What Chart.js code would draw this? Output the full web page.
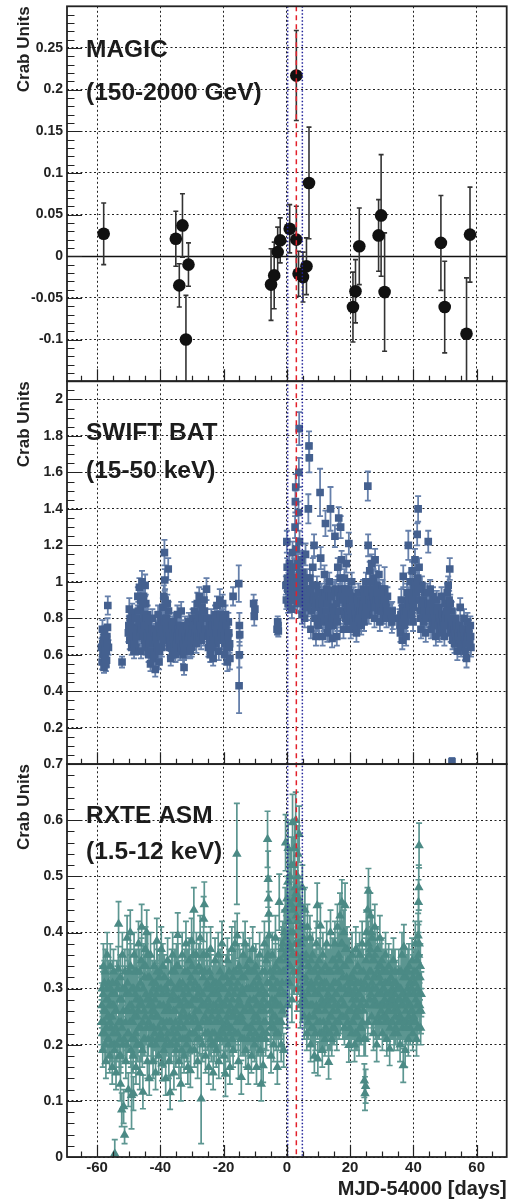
<!DOCTYPE html>
<html>
<head>
<meta charset="utf-8">
<title>MAGIC / Swift BAT / RXTE ASM light curves</title>
<script src="https://cdn.jsdelivr.net/npm/chart.js@4.4.1/dist/chart.umd.min.js"></script>
<style>
  html, body { margin: 0; padding: 0; background: #fff; }
  canvas { display: block; }
</style>
</head>
<body>
<canvas id="lc" width="513" height="1203"></canvas>
<script>
// --- Data: days are MJD-54000, fluxes in Crab units ---
const dayRange = [-69.5, 69.5];
const dayTicks = [-60, -40, -20, 0, 20, 40, 60];
const markerDays = [0.25, 4.9];   // blue dotted lines
const flareDay = 3.0;             // red dashed line

const magicRange = [-0.15, 0.3];
const magicTicks = [-0.1, -0.05, 0, 0.05, 0.1, 0.15, 0.2, 0.25];
const magicDay  = [-57.9, -35.1, -34.0, -33.0, -31.9, -31.1, -5.0, -4.0, -2.9, -2.1, 0.9, 3.0, 3.0, 3.7, 5.1, 6.2, 7.0, 20.9, 21.7, 22.9, 29.0, 29.8, 30.9, 48.7, 49.9, 56.8, 57.9];
const magicFlux = [0.027, 0.021, -0.035, 0.037, -0.100, -0.010, -0.034, -0.023, 0.005, 0.019, 0.033, 0.217, 0.020, -0.021, -0.025, -0.012, 0.088, -0.061, -0.042, 0.012, 0.025, 0.049, -0.043, 0.016, -0.061, -0.093, 0.026];
const magicErr  = [0.037, 0.033, 0.026, 0.038, 0.053, 0.026, 0.043, 0.040, 0.030, 0.027, 0.029, 0.054, 0.040, 0.027, 0.030, 0.034, 0.067, 0.042, 0.038, 0.046, 0.043, 0.073, 0.071, 0.057, 0.055, 0.067, 0.057];

const batRange = [0, 2.1];
const batTicks = [0.2, 0.4, 0.6, 0.8, 1, 1.2, 1.4, 1.6, 1.8, 2];
// [day, flux, error]
const batPoints = [
  [-58.6,0.64,0.05],[-58.4,0.56,0.04],[-58.3,0.74,0.05],[-58.1,0.60,0.04],[-58.0,0.68,0.05],
  [-57.8,0.53,0.03],[-57.7,0.71,0.05],[-57.5,0.58,0.04],[-57.4,0.66,0.05],[-57.2,0.55,0.04],
  [-57.1,0.62,0.04],[-56.9,0.70,0.05],[-56.7,0.75,0.05],[-56.6,0.87,0.05],[-56.4,0.64,0.04],
  [-52.1,0.56,0.03],
  [-50.1,0.72,0.05],[-49.8,0.85,0.06],[-49.5,0.80,0.05],[-49.2,0.70,0.05],[-48.9,0.83,0.05],
  [-48.6,0.66,0.05],[-48.3,0.62,0.04],[-48.0,0.75,0.05],[-47.7,0.64,0.04],[-47.4,0.80,0.05],
  [-47.1,0.92,0.05],[-46.9,0.70,0.05],[-46.6,0.97,0.05],[-46.3,0.85,0.05],[-46.1,0.62,0.04],
  [-45.8,1.00,0.06],[-45.5,0.78,0.05],[-45.3,0.92,0.05],[-45.0,0.68,0.05],[-44.8,0.98,0.06],
  [-44.6,0.88,0.05],[-44.3,0.72,0.05],
  [-44.0,0.82,0.05],[-43.7,0.60,0.04],[-43.4,0.74,0.05],[-43.1,0.55,0.04],[-42.8,0.68,0.05],
  [-42.5,0.80,0.05],[-42.2,0.58,0.04],[-41.9,0.66,0.05],[-41.6,0.52,0.04],[-41.3,0.74,0.05],
  [-41.0,0.62,0.05],[-40.7,0.82,0.05],[-40.4,0.56,0.04],[-40.1,0.70,0.05],[-39.8,0.78,0.05],
  [-39.5,0.64,0.05],[-39.2,0.86,0.05],[-38.9,0.92,0.06],[-38.7,1.16,0.07],[-38.6,1.01,0.06],
  [-38.4,0.80,0.05],[-38.1,0.70,0.05],[-37.8,0.88,0.05],[-37.5,1.07,0.06],[-37.3,0.76,0.05],
  [-37.0,0.64,0.05],[-36.7,0.58,0.04],[-36.4,0.72,0.05],[-36.1,0.62,0.04],[-35.8,0.78,0.05],
  [-35.5,0.68,0.05],[-35.2,0.60,0.04],[-34.9,0.74,0.05],[-34.6,0.82,0.05],[-34.3,0.66,0.05],
  [-34.0,0.76,0.05],[-33.7,0.62,0.05],[-33.4,0.84,0.05],[-33.1,0.70,0.05],[-32.8,0.60,0.05],
  [-32.5,0.53,0.04],[-32.2,0.76,0.05],[-31.9,0.66,0.05],[-31.6,0.72,0.05],[-31.3,0.62,0.04],
  [-31.0,0.78,0.05],[-30.7,0.68,0.05],[-30.4,0.74,0.05],[-30.1,0.64,0.05],
  [-29.8,0.80,0.05],[-29.5,0.70,0.05],[-29.2,0.84,0.05],[-28.9,0.76,0.05],[-28.6,0.66,0.05],
  [-28.3,0.88,0.06],[-28.0,0.72,0.05],[-27.7,0.92,0.05],[-27.4,0.78,0.05],[-27.1,0.68,0.05],
  [-26.8,0.86,0.05],[-26.5,0.74,0.05],[-26.2,0.90,0.06],[-25.9,0.80,0.05],[-25.4,0.96,0.06],
  [-25.1,0.72,0.05],[-24.8,0.64,0.05],[-24.5,0.76,0.05],[-24.2,0.60,0.04],[-23.9,0.80,0.05],
  [-23.6,0.70,0.05],[-23.3,0.58,0.04],[-23.0,0.74,0.05],[-22.7,0.82,0.05],[-22.4,0.66,0.05],
  [-22.1,0.87,0.05],[-21.8,0.72,0.05],[-21.5,0.62,0.05],
  [-21.2,0.90,0.06],[-20.9,0.78,0.05],[-20.6,0.68,0.05],[-20.3,0.88,0.05],[-20.0,0.74,0.05],
  [-19.7,0.60,0.05],[-19.4,0.82,0.05],[-19.1,0.70,0.05],[-18.8,0.56,0.05],[-18.5,0.78,0.05],
  [-18.2,0.64,0.06],[-18.0,0.58,0.06],[-17.0,0.92,0.05],
  [-15.2,0.99,0.10],[-15.0,0.76,0.07],[-14.9,0.71,0.06],[-15.0,0.60,0.07],[-15.1,0.43,0.15],
  [-10.5,0.88,0.05],[-10.3,0.81,0.05],[-10.1,0.85,0.05],
  [-3.1,0.74,0.03],[-2.9,0.78,0.03],[-2.8,0.76,0.03],[-2.7,0.73,0.03],
  [-0.3,0.98,0.05],[0.0,1.22,0.06],[0.2,1.02,0.05],[0.4,0.88,0.05],[0.6,0.95,0.05],
  [0.8,1.10,0.05],[1.0,0.90,0.05],[1.3,1.05,0.05],[1.6,0.85,0.05],[1.8,1.16,0.06],
  [2.0,0.96,0.05],[2.3,1.08,0.05],[2.6,1.30,0.06],[2.7,1.44,0.06],[2.8,1.52,0.07],
  [2.9,1.18,0.06],[3.1,1.00,0.05],[3.3,0.88,0.05],[3.5,1.10,0.05],[3.7,1.38,0.06],
  [3.8,1.60,0.08],[3.9,1.84,0.09],[4.0,1.22,0.06],[4.2,0.96,0.05],[4.4,0.89,0.05],
  [4.6,1.12,0.05],[4.8,0.82,0.05],
  [5.0,1.05,0.05],[5.3,0.92,0.05],[5.6,0.80,0.05],[5.9,1.15,0.06],[6.2,0.96,0.05],
  [6.5,0.86,0.05],[6.8,1.40,0.08],[7.0,1.745,0.08],[7.1,1.68,0.08],[7.3,1.02,0.05],
  [7.6,0.74,0.05],[7.9,0.92,0.05],[8.2,1.08,0.05],[8.6,1.20,0.06],[8.9,0.80,0.05],
  [9.2,0.70,0.05],[9.5,0.98,0.05],[9.8,0.86,0.05],[10.1,0.76,0.05],[10.5,1.49,0.13],
  [10.7,1.13,0.06],[11.0,0.94,0.05],[11.3,0.70,0.05],[11.6,0.84,0.05],[11.9,1.04,0.05],
  [12.2,1.32,0.07],[12.5,0.90,0.05],[12.8,0.72,0.05],[13.1,0.80,0.05],[13.4,1.00,0.05],
  [13.8,1.40,0.12],[14.0,0.86,0.05],[14.3,0.69,0.05],[14.6,0.76,0.05],[14.9,0.95,0.05],
  [15.2,1.25,0.06],[15.5,0.82,0.05],[15.8,0.70,0.05],[16.1,1.08,0.05],[16.4,1.35,0.06],
  [16.7,0.92,0.05],[17.0,1.30,0.06],[17.3,1.12,0.05],[17.6,0.84,0.05],[17.9,0.74,0.05],
  [18.2,1.02,0.05],[18.5,0.88,0.05],[18.8,1.10,0.05],[19.1,0.78,0.05],[19.4,0.96,0.05],
  [19.6,1.21,0.06],[19.9,0.86,0.05],
  [20.2,0.74,0.05],[20.5,1.00,0.05],[20.8,0.82,0.05],[21.1,0.92,0.05],[21.4,0.76,0.05],
  [21.7,0.88,0.05],[22.0,0.72,0.05],[22.3,0.84,0.05],[22.6,0.94,0.05],[22.9,0.78,0.05],
  [23.2,0.88,0.05],[23.5,0.76,0.05],[23.8,0.82,0.05],[24.1,0.96,0.05],[24.4,0.78,0.05],
  [24.7,0.86,0.05],[25.0,1.00,0.05],[25.3,0.90,0.05],[25.6,1.525,0.08],[25.7,1.20,0.06],
  [25.9,0.82,0.05],[26.2,1.06,0.05],[26.5,0.94,0.05],[26.8,1.10,0.05],[27.1,0.86,0.05],
  [27.4,1.02,0.05],[27.7,0.80,0.05],[27.9,1.12,0.06],[28.2,0.92,0.05],[28.5,0.98,0.05],
  [28.8,0.84,0.05],[29.1,1.04,0.05],[29.4,0.78,0.05],[29.7,0.90,0.05],
  [30.0,0.86,0.05],[30.3,0.96,0.05],[30.6,0.82,0.05],[30.9,0.96,0.12],[31.2,0.88,0.05],
  [31.5,0.80,0.05],[31.8,0.92,0.05],[33.0,0.82,0.06],[33.2,0.78,0.06],[33.3,0.84,0.05],
  [33.5,0.80,0.06],
  [35.6,0.80,0.05],[35.9,0.72,0.05],[36.2,0.90,0.06],[36.5,0.68,0.05],[36.8,1.03,0.06],
  [37.1,0.76,0.05],[37.4,0.86,0.05],[37.7,0.70,0.05],[38.0,0.94,0.05],[38.4,1.20,0.08],
  [38.7,0.82,0.05],[39.0,1.00,0.05],[39.3,0.88,0.05],[39.6,1.06,0.05],[39.9,0.78,0.05],
  [40.2,0.96,0.05],[40.5,1.12,0.06],[40.8,0.90,0.05],[41.2,1.26,0.06],[41.5,1.40,0.07],
  [41.8,1.08,0.05],[42.1,0.84,0.05],
  [42.4,0.74,0.05],[42.7,0.98,0.05],[43.0,0.86,0.05],[43.3,0.78,0.05],[43.6,0.94,0.05],
  [43.9,0.72,0.05],[44.2,0.88,0.05],[44.7,1.22,0.06],[45.0,0.80,0.05],[45.3,0.96,0.05],
  [45.6,0.74,0.05],[45.9,0.86,0.05],[46.2,0.92,0.05],[46.5,0.76,0.05],[46.8,0.84,0.05],
  [47.1,0.70,0.05],[47.4,0.90,0.05],[47.7,0.78,0.05],[48.0,0.86,0.05],[48.3,0.72,0.05],
  [48.6,0.82,0.05],[48.9,0.92,0.05],[49.2,0.74,0.05],[49.5,0.80,0.05],[49.8,0.70,0.05],
  [50.1,0.88,0.05],[50.4,0.76,0.05],[50.7,0.94,0.05],[51.0,0.98,0.05],[51.3,0.90,0.05],
  [51.5,1.07,0.06],[51.8,0.72,0.05],[52.1,0.84,0.05],[52.2,0.014,0.02],[52.4,0.68,0.05],
  [52.7,0.78,0.05],
  [53.0,0.66,0.05],[53.3,0.80,0.05],[53.6,0.70,0.05],[53.9,0.62,0.05],[54.2,0.76,0.05],
  [54.5,0.68,0.05],[54.8,0.86,0.05],[55.1,0.64,0.05],[55.4,0.74,0.05],[55.7,0.70,0.05],
  [56.0,0.80,0.05],[56.3,0.62,0.05],[56.6,0.72,0.05],[56.8,0.58,0.05],[57.1,0.78,0.05],
  [57.4,0.66,0.05],[57.7,0.70,0.05],[58.0,0.76,0.05],[58.2,0.64,0.05],
  // interleaved orbits
  [-58.2,0.66,0.05],[-57.9,0.61,0.04],[-57.6,0.69,0.05],[-57.3,0.63,0.04],[-57.0,0.57,0.04],[-56.8,0.66,0.05],
  [-49.95,0.76,0.05],[-49.65,0.68,0.05],[-49.35,0.78,0.05],[-49.05,0.64,0.04],[-48.75,0.74,0.05],
  [-48.45,0.70,0.05],[-48.15,0.66,0.05],[-47.85,0.80,0.05],[-47.55,0.70,0.05],[-47.25,0.74,0.05],
  [-46.95,0.84,0.05],[-46.75,0.78,0.05],[-46.45,0.72,0.05],[-46.2,0.90,0.05],[-45.95,0.74,0.05],
  [-45.65,0.88,0.05],[-45.4,0.70,0.05],[-45.15,0.82,0.05],[-44.9,0.76,0.05],[-44.7,0.64,0.04],
  [-44.45,0.80,0.05],[-44.15,0.70,0.05],[-43.85,0.76,0.05],[-43.55,0.66,0.05],[-43.25,0.70,0.05],
  [-42.95,0.62,0.04],[-42.65,0.74,0.05],[-42.35,0.66,0.05],[-42.05,0.72,0.05],[-41.75,0.60,0.04],
  [-41.45,0.68,0.05],[-41.15,0.70,0.05],[-40.85,0.64,0.05],[-40.55,0.76,0.05],[-40.25,0.62,0.04],
  [-39.95,0.72,0.05],[-39.65,0.70,0.05],[-39.35,0.76,0.05],[-39.05,0.68,0.05],[-38.8,0.78,0.05],
  [-38.5,0.90,0.06],[-38.25,0.74,0.05],[-37.95,0.80,0.05],[-37.65,0.72,0.05],[-37.4,0.84,0.05],
  [-37.15,0.70,0.05],[-36.85,0.68,0.05],[-36.55,0.64,0.04],[-36.25,0.76,0.05],[-35.95,0.70,0.05],
  [-35.65,0.64,0.04],[-35.35,0.72,0.05],[-35.05,0.66,0.05],[-34.75,0.70,0.05],[-34.45,0.74,0.05],
  [-34.15,0.68,0.05],[-33.85,0.72,0.05],[-33.55,0.76,0.05],[-33.25,0.64,0.04],[-32.95,0.72,0.05],
  [-32.65,0.66,0.05],[-32.35,0.62,0.04],[-32.05,0.70,0.05],[-31.75,0.68,0.05],[-31.45,0.76,0.05],
  [-31.15,0.70,0.05],[-30.85,0.72,0.05],[-30.55,0.62,0.04],[-30.25,0.70,0.05],[-29.95,0.74,0.05],
  [-29.65,0.76,0.05],[-29.35,0.68,0.05],[-29.05,0.72,0.05],[-28.75,0.80,0.05],[-28.45,0.70,0.05],
  [-28.15,0.78,0.05],[-27.85,0.82,0.05],[-27.55,0.70,0.05],[-27.25,0.76,0.05],[-26.95,0.72,0.05],
  [-26.65,0.80,0.05],[-26.35,0.70,0.05],[-26.05,0.84,0.05],[-25.7,0.74,0.05],[-25.25,0.80,0.05],
  [-24.95,0.70,0.05],[-24.65,0.72,0.05],[-24.35,0.68,0.05],[-24.05,0.72,0.05],[-23.75,0.64,0.04],
  [-23.45,0.76,0.05],[-23.15,0.68,0.05],[-22.85,0.70,0.05],[-22.55,0.76,0.05],[-22.25,0.72,0.05],
  [-21.95,0.78,0.05],[-21.65,0.68,0.05],[-21.05,0.82,0.05],[-20.75,0.72,0.05],[-20.45,0.76,0.05],
  [-20.15,0.80,0.05],[-19.85,0.70,0.05],[-19.55,0.66,0.05],[-19.25,0.76,0.05],[-18.95,0.64,0.05],
  [-18.65,0.70,0.05],[-18.35,0.72,0.05],[-18.1,0.66,0.05],
  [-0.15,0.90,0.05],[0.1,1.08,0.05],[0.3,0.96,0.05],[0.5,1.00,0.05],[0.7,0.90,0.05],
  [0.9,0.98,0.05],[1.15,0.94,0.05],[1.45,0.98,0.05],[1.7,0.92,0.05],[1.9,1.02,0.05],
  [2.15,0.90,0.05],[2.45,1.00,0.05],[2.75,0.94,0.05],[3.0,1.08,0.05],[3.2,0.96,0.05],
  [3.4,1.02,0.05],[3.6,0.92,0.05],[4.1,1.04,0.05],[4.3,0.94,0.05],[4.5,1.00,0.05],
  [4.7,0.90,0.05],[4.9,0.96,0.05],[5.15,0.88,0.05],[5.45,1.00,0.05],[5.75,0.94,0.05],
  [6.05,0.86,0.05],[6.35,1.02,0.05],[6.65,0.92,0.05],[7.2,0.88,0.05],[7.45,0.96,0.05],
  [7.75,0.84,0.05],[8.05,0.98,0.05],[8.35,0.90,0.05],[8.75,0.92,0.05],[9.05,0.86,0.05],
  [9.35,0.90,0.05],[9.65,0.78,0.05],[9.95,0.94,0.05],[10.3,0.88,0.05],[10.85,0.82,0.05],
  [11.15,0.88,0.05],[11.45,0.92,0.05],[11.75,0.78,0.05],[12.05,0.94,0.05],[12.35,0.84,0.05],
  [12.65,0.96,0.05],[12.95,0.88,0.05],[13.25,0.76,0.05],[13.55,0.92,0.05],[13.9,0.82,0.05],
  [14.15,0.92,0.05],[14.45,0.80,0.05],[14.75,0.86,0.05],[15.05,0.80,0.05],[15.35,0.96,0.05],
  [15.65,0.88,0.05],[15.95,0.78,0.05],[16.25,0.94,0.05],[16.55,0.84,0.05],[16.85,1.02,0.05],
  [17.15,0.92,0.05],[17.45,0.96,0.05],[17.75,0.90,0.05],[18.05,0.82,0.05],[18.35,0.96,0.05],
  [18.65,0.80,0.05],[18.95,0.92,0.05],[19.25,0.86,0.05],[19.5,0.82,0.05],[19.75,0.94,0.05],
  [20.05,0.86,0.05],[20.35,0.80,0.05],[20.65,0.90,0.05],[20.95,0.78,0.05],[21.25,0.86,0.05],
  [21.55,0.82,0.05],[21.85,0.80,0.05],[22.15,0.90,0.05],[22.45,0.80,0.05],[22.75,0.86,0.05],
  [23.05,0.82,0.05],[23.35,0.84,0.05],[23.65,0.90,0.05],[23.95,0.84,0.05],[24.25,0.88,0.05],
  [24.55,0.92,0.05],[24.85,0.82,0.05],[25.15,0.86,0.05],[25.45,0.96,0.05],[26.05,0.90,0.05],
  [26.35,1.00,0.05],[26.65,0.88,0.05],[26.95,0.96,0.05],[27.25,0.92,0.05],[27.55,0.88,0.05],
  [27.75,0.96,0.05],[28.05,0.86,0.05],[28.35,0.90,0.05],[28.65,0.94,0.05],[28.95,0.90,0.05],
  [29.25,0.86,0.05],[29.55,0.94,0.05],[29.85,0.84,0.05],[30.15,0.90,0.05],[30.45,0.88,0.05],
  [30.75,0.90,0.05],[31.05,0.84,0.05],[31.35,0.86,0.05],[31.65,0.84,0.05],
  [35.75,0.76,0.05],[36.05,0.82,0.05],[36.35,0.78,0.05],[36.65,0.86,0.05],[36.95,0.80,0.05],
  [37.25,0.82,0.05],[37.55,0.78,0.05],[37.85,0.84,0.05],[38.2,0.88,0.05],[38.55,0.92,0.05],
  [38.85,0.88,0.05],[39.15,0.94,0.05],[39.45,0.82,0.05],[39.75,0.90,0.05],[40.05,0.86,0.05],
  [40.35,0.98,0.05],[40.65,1.00,0.05],[40.95,0.94,0.05],[41.35,1.02,0.05],[41.65,0.96,0.05],
  [41.95,0.90,0.05],[42.25,0.80,0.05],[42.55,0.86,0.05],[42.85,0.80,0.05],[43.15,0.90,0.05],
  [43.45,0.84,0.05],[43.75,0.82,0.05],[44.05,0.80,0.05],[44.45,0.94,0.05],[44.85,0.88,0.05],
  [45.15,0.84,0.05],[45.45,0.88,0.05],[45.75,0.80,0.05],[46.05,0.78,0.05],[46.35,0.84,0.05],
  [46.65,0.80,0.05],[46.95,0.78,0.05],[47.25,0.80,0.05],[47.55,0.84,0.05],[47.85,0.76,0.05],
  [48.15,0.80,0.05],[48.45,0.78,0.05],[48.75,0.76,0.05],[49.05,0.82,0.05],[49.35,0.78,0.05],
  [49.65,0.76,0.05],[49.95,0.80,0.05],[50.25,0.82,0.05],[50.55,0.84,0.05],[50.85,0.86,0.05],
  [51.15,0.80,0.05],[51.65,0.88,0.05],[51.95,0.78,0.05],[52.3,0.76,0.05],[52.55,0.72,0.05],
  [52.85,0.74,0.05],[53.15,0.72,0.05],[53.45,0.76,0.05],[53.75,0.74,0.05],[54.05,0.70,0.05],
  [54.35,0.72,0.05],[54.65,0.76,0.05],[54.95,0.70,0.05],[55.25,0.72,0.05],[55.55,0.66,0.05],
  [55.85,0.74,0.05],[56.15,0.70,0.05],[56.45,0.68,0.05],[56.75,0.66,0.05],[56.95,0.70,0.05],
  [57.25,0.72,0.05],[57.55,0.74,0.05],[57.85,0.68,0.05],[58.1,0.70,0.05]
];

const asmRange = [0, 0.7];
const asmTicks = [0, 0.1, 0.2, 0.3, 0.4, 0.5, 0.6, 0.7];
// [day, flux, error]
const asmPoints = [
  [-58.6,0.24,0.04],[-58.4,0.30,0.04],[-58.2,0.19,0.03],[-58.0,0.34,0.04],[-57.8,0.26,0.03],
  [-57.6,0.22,0.03],[-57.4,0.33,0.04],[-57.2,0.17,0.03],[-57.0,0.28,0.04],[-56.8,0.36,0.04],
  [-56.6,0.21,0.03],[-56.4,0.31,0.04],[-56.2,0.25,0.03],[-56.0,0.18,0.03],
  [-55.8,0.34,0.04],[-55.6,0.23,0.03],[-55.4,0.29,0.04],[-55.2,0.16,0.03],[-55.0,0.27,0.04],
  [-54.8,0.33,0.04],[-54.6,0.20,0.03],[-54.4,0.006,0.025],[-54.2,0.26,0.04],[-54.0,0.15,0.03],
  [-53.8,0.31,0.04],[-53.6,0.22,0.03],[-53.3,0.335,0.04],[-53.2,0.415,0.04],[-53.0,0.18,0.03],
  [-52.8,0.28,0.04],[-52.6,0.13,0.03],[-52.4,0.24,0.03],[-52.2,0.084,0.03],[-52.0,0.36,0.04],
  [-51.8,0.20,0.03],[-51.6,0.09,0.03],[-51.3,0.039,0.015],[-51.1,0.30,0.04],[-50.9,0.17,0.03],
  [-50.7,0.26,0.04],[-50.5,0.39,0.04],[-50.3,0.22,0.03],[-50.1,0.12,0.03],
  [-49.9,0.33,0.04],[-49.7,0.27,0.04],[-49.5,0.40,0.04],[-49.3,0.19,0.03],[-49.1,0.11,0.06],
  [-48.9,0.30,0.04],[-48.7,0.24,0.03],[-48.5,0.113,0.03],[-48.3,0.36,0.04],[-48.1,0.21,0.03],
  [-47.9,0.29,0.04],[-47.7,0.16,0.03],[-47.5,0.33,0.04],[-47.3,0.25,0.03],
  [-47.1,0.20,0.03],[-46.9,0.38,0.04],[-46.7,0.27,0.04],[-46.5,0.15,0.03],[-46.3,0.31,0.04],
  [-46.1,0.23,0.03],[-45.9,0.41,0.04],[-45.7,0.19,0.03],[-45.5,0.116,0.03],[-45.3,0.34,0.04],
  [-45.1,0.26,0.04],[-44.9,0.21,0.03],[-44.7,0.37,0.04],[-44.5,0.29,0.04],[-44.3,0.40,0.04],
  [-44.1,0.17,0.03],[-43.9,0.32,0.04],[-43.7,0.24,0.03],[-43.5,0.14,0.03],[-43.3,0.28,0.04],
  [-43.1,0.36,0.04],[-42.9,0.20,0.03],[-42.7,0.26,0.04],[-42.5,0.31,0.04],[-42.3,0.17,0.03],
  [-42.1,0.23,0.03],[-41.9,0.34,0.04],[-41.7,0.28,0.04],[-41.5,0.15,0.03],[-41.3,0.25,0.03],
  [-41.1,0.385,0.04],[-40.9,0.21,0.03],[-40.7,0.30,0.04],[-40.5,0.18,0.03],[-40.3,0.27,0.04],
  [-40.1,0.33,0.04],[-39.9,0.22,0.03],[-39.7,0.37,0.04],[-39.5,0.166,0.03],[-39.3,0.29,0.04],
  [-39.1,0.24,0.03],[-38.9,0.19,0.03],[-38.7,0.32,0.04],[-38.5,0.26,0.04],[-38.3,0.14,0.03],
  [-38.1,0.30,0.04],[-37.9,0.21,0.03],[-37.7,0.35,0.04],[-37.5,0.27,0.04],[-37.3,0.17,0.03],
  [-37.1,0.24,0.03],[-36.9,0.115,0.03],[-36.7,0.31,0.04],[-36.5,0.20,0.03],[-36.3,0.28,0.04],
  [-36.1,0.36,0.04],[-35.9,0.23,0.03],[-35.7,0.15,0.03],[-35.5,0.30,0.04],[-35.3,0.26,0.04],
  [-35.1,0.19,0.03],[-34.9,0.34,0.04],[-34.7,0.22,0.03],[-34.5,0.395,0.04],[-34.3,0.28,0.04],
  [-34.1,0.17,0.03],[-33.9,0.31,0.04],[-33.7,0.24,0.03],[-33.5,0.13,0.03],[-33.3,0.27,0.04],
  [-33.1,0.36,0.04],[-32.9,0.21,0.03],[-32.7,0.29,0.04],[-32.5,0.18,0.03],[-32.3,0.33,0.04],
  [-32.1,0.25,0.04],[-31.9,0.38,0.04],[-31.7,0.20,0.03],[-31.5,0.30,0.04],[-31.3,0.16,0.03],
  [-31.1,0.27,0.04],[-30.9,0.35,0.04],[-30.7,0.22,0.03],[-30.5,0.154,0.03],[-30.3,0.32,0.04],
  [-30.1,0.385,0.04],[-29.9,0.24,0.03],[-29.7,0.28,0.04],[-29.4,0.44,0.04],[-29.2,0.19,0.03],
  [-29.0,0.31,0.04],[-28.8,0.26,0.04],[-28.6,0.36,0.04],[-28.4,0.21,0.03],[-28.2,0.17,0.03],
  [-28.0,0.29,0.04],[-27.8,0.34,0.04],[-27.6,0.23,0.03],[-27.4,0.39,0.04],[-27.1,0.104,0.08],
  [-26.9,0.27,0.04],[-26.7,0.20,0.03],[-26.5,0.32,0.04],[-26.3,0.424,0.04],[-26.1,0.45,0.04],
  [-25.9,0.25,0.04],[-25.7,0.18,0.03],[-25.5,0.30,0.04],[-25.3,0.36,0.04],[-25.1,0.22,0.03],
  [-24.9,0.28,0.04],[-24.7,0.16,0.03],[-24.5,0.33,0.04],[-24.3,0.24,0.03],[-24.1,0.37,0.04],
  [-23.9,0.20,0.03],[-23.7,0.29,0.04],[-23.5,0.26,0.04],[-23.3,0.15,0.03],[-23.1,0.31,0.04],
  [-22.9,0.22,0.03],[-22.7,0.35,0.04],[-22.5,0.27,0.04],[-22.3,0.19,0.03],[-22.1,0.30,0.04],
  [-21.9,0.24,0.03],[-21.7,0.36,0.04],[-21.5,0.17,0.03],[-21.3,0.28,0.04],[-21.1,0.33,0.04],
  [-20.9,0.21,0.03],[-20.7,0.26,0.04],[-20.5,0.38,0.04],[-20.3,0.23,0.03],[-20.1,0.30,0.04],
  [-19.9,0.18,0.03],[-19.7,0.27,0.04],[-19.4,0.148,0.04],[-19.2,0.32,0.04],[-19.0,0.24,0.03],
  [-18.8,0.35,0.04],[-18.6,0.20,0.03],[-18.4,0.29,0.04],[-18.2,0.26,0.04],[-18.0,0.16,0.03],
  [-17.8,0.31,0.04],[-17.6,0.23,0.03],[-17.4,0.37,0.04],[-17.2,0.28,0.04],[-17.0,0.19,0.03],
  [-16.8,0.33,0.04],[-16.6,0.25,0.03],[-16.4,0.38,0.04],[-16.2,0.22,0.03],[-16.0,0.30,0.04],
  [-15.8,0.54,0.09],[-15.7,0.394,0.04],[-15.5,0.27,0.04],[-15.3,0.17,0.03],[-15.1,0.34,0.04],
  [-14.9,0.24,0.03],[-14.7,0.29,0.04],[-14.4,0.142,0.03],[-14.2,0.32,0.04],[-14.0,0.21,0.03],
  [-13.8,0.36,0.04],[-13.6,0.26,0.04],[-13.2,0.38,0.04],[-13.0,0.19,0.03],[-12.8,0.30,0.04],
  [-12.6,0.23,0.03],[-12.4,0.33,0.04],[-12.2,0.16,0.03],
  [-12.0,0.27,0.04],[-11.8,0.35,0.04],[-11.6,0.22,0.03],[-11.4,0.30,0.04],[-11.2,0.18,0.03],
  [-11.0,0.26,0.04],[-10.8,0.37,0.04],[-10.6,0.24,0.03],[-10.4,0.31,0.04],[-10.2,0.20,0.03],
  [-10.0,0.28,0.04],[-9.8,0.34,0.04],[-9.6,0.16,0.03],[-9.4,0.25,0.04],[-9.2,0.32,0.04],
  [-9.0,0.21,0.03],[-8.8,0.29,0.04],[-8.6,0.36,0.04],[-8.4,0.19,0.03],[-8.1,0.13,0.03],
  [-7.9,0.27,0.04],[-7.7,0.33,0.04],[-7.5,0.163,0.03],[-7.3,0.24,0.03],[-7.1,0.38,0.04],
  [-6.9,0.29,0.04],[-6.7,0.21,0.03],[-6.5,0.35,0.04],[-6.3,0.27,0.04],[-6.1,0.566,0.05],
  [-5.9,0.495,0.05],[-5.8,0.46,0.04],[-5.7,0.433,0.04],[-5.6,0.394,0.04],[-5.4,0.31,0.04],
  [-5.2,0.23,0.03],[-5.0,0.18,0.03],
  [-4.8,0.30,0.04],[-4.6,0.36,0.04],[-4.4,0.25,0.03],[-4.2,0.20,0.03],[-4.0,0.33,0.04],
  [-3.8,0.28,0.04],[-3.6,0.39,0.04],[-3.4,0.22,0.03],[-3.2,0.31,0.04],[-3.0,0.16,0.03],
  [-2.8,0.27,0.04],[-2.6,0.35,0.04],[-2.4,0.454,0.05],[-2.2,0.24,0.03],[-2.0,0.30,0.04],
  [-1.8,0.20,0.03],[-1.6,0.37,0.04],[-1.4,0.26,0.04],[-1.2,0.33,0.04],[-1.0,0.19,0.03],
  [-0.8,0.40,0.04],[-0.6,0.29,0.04],[-0.4,0.56,0.05],[-0.2,0.35,0.04],[0.0,0.46,0.04],
  [0.2,0.27,0.04],[0.4,0.55,0.05],[0.6,0.42,0.04],[0.8,0.31,0.04],[1.0,0.50,0.05],
  [1.2,0.37,0.04],[1.4,0.45,0.04],[1.6,0.28,0.04],[1.8,0.596,0.05],[2.0,0.40,0.04],
  [2.2,0.52,0.05],[2.4,0.33,0.04],[2.6,0.48,0.04],[2.8,0.60,0.05],[3.0,0.43,0.04],
  [3.2,0.30,0.04],[3.4,0.50,0.05],[3.6,0.38,0.04],[3.9,0.575,0.05],[4.1,0.45,0.04],
  [4.3,0.27,0.04],[4.5,0.41,0.04],[4.7,0.34,0.04],[4.9,0.48,0.04],[5.1,0.29,0.04],
  [5.3,0.39,0.04],[5.5,0.25,0.04],[5.7,0.44,0.04],[5.9,0.32,0.04],
  [6.1,0.36,0.04],[6.3,0.22,0.03],[6.5,0.41,0.04],[6.7,0.29,0.04],[6.9,0.34,0.04],
  [7.1,0.25,0.03],[7.3,0.39,0.04],[7.5,0.20,0.03],[7.7,0.31,0.04],[7.9,0.27,0.04],
  [8.1,0.36,0.04],[8.3,0.23,0.03],[8.5,0.30,0.04],[8.7,0.18,0.03],[8.9,0.33,0.04],
  [9.1,0.26,0.04],[9.3,0.38,0.04],[9.6,0.448,0.04],[9.8,0.175,0.03],[10.0,0.29,0.04],
  [10.2,0.35,0.04],[10.4,0.22,0.03],[10.6,0.412,0.04],[10.8,0.27,0.04],[11.0,0.31,0.04],
  [11.2,0.19,0.03],[11.4,0.36,0.04],[11.6,0.24,0.03],[11.8,0.30,0.04],[12.0,0.21,0.03],
  [12.2,0.34,0.04],[12.4,0.27,0.04],[12.6,0.38,0.04],[12.8,0.22,0.03],[13.0,0.29,0.04],
  [13.2,0.169,0.03],[13.4,0.33,0.04],[13.6,0.25,0.03],[13.8,0.40,0.04],[14.0,0.28,0.04],
  [14.2,0.21,0.03],[14.4,0.35,0.04],[14.6,0.26,0.04],[14.8,0.31,0.04],[15.0,0.23,0.03],
  [15.2,0.38,0.04],[15.4,0.29,0.04],[15.6,0.34,0.04],[15.8,0.22,0.03],[16.0,0.41,0.04],
  [16.2,0.27,0.04],[16.4,0.36,0.04],[16.6,0.30,0.04],[16.8,0.43,0.04],[17.0,0.25,0.03],
  [17.2,0.38,0.04],[17.4,0.454,0.04],[17.6,0.32,0.04],[17.8,0.27,0.04],[18.0,0.40,0.04],
  [18.2,0.23,0.03],[18.4,0.448,0.04],[18.6,0.34,0.04],[18.8,0.29,0.04],[19.0,0.37,0.04],
  [19.2,0.24,0.03],[19.4,0.31,0.04],[19.6,0.199,0.03],[19.8,0.35,0.04],[20.0,0.26,0.04],
  [20.2,0.32,0.04],[20.4,0.22,0.03],[20.6,0.36,0.04],[20.8,0.28,0.04],[21.0,0.24,0.03],
  [21.2,0.33,0.04],[21.4,0.20,0.03],[21.6,0.30,0.04],[21.8,0.37,0.04],[22.0,0.26,0.04],
  [22.2,0.22,0.03],[22.4,0.34,0.04],[22.6,0.29,0.04],[22.8,0.21,0.03],[23.0,0.36,0.04],
  [23.2,0.27,0.04],[23.4,0.31,0.04],[23.6,0.23,0.03],[23.8,0.38,0.04],[24.0,0.28,0.04],
  [24.2,0.33,0.04],[24.4,0.21,0.03],[24.5,0.136,0.03],[24.7,0.113,0.03],[24.9,0.126,0.03],
  [25.1,0.40,0.04],[25.3,0.30,0.04],[25.5,0.44,0.04],[25.6,0.24,0.03],[25.8,0.474,0.04],
  [26.0,0.36,0.04],[26.2,0.28,0.04],[26.4,0.43,0.04],[26.6,0.33,0.04],[26.8,0.25,0.03],
  [27.0,0.39,0.04],[27.2,0.30,0.04],[27.4,0.22,0.03],[27.6,0.35,0.04],[27.8,0.41,0.04],
  [28.0,0.27,0.04],[28.2,0.32,0.04],[28.4,0.20,0.03],[28.6,0.37,0.04],[28.8,0.29,0.04],
  [29.0,0.34,0.04],[29.2,0.24,0.03],[29.4,0.39,0.04],[29.6,0.31,0.04],[29.8,0.26,0.04],
  [30.0,0.35,0.04],[30.2,0.22,0.03],[30.4,0.30,0.04],[30.6,0.27,0.04],[30.8,0.33,0.04],
  [31.0,0.24,0.03],[31.2,0.36,0.04],[31.4,0.29,0.04],[31.6,0.21,0.03],[31.8,0.31,0.04],
  [32.0,0.26,0.04],[32.2,0.34,0.04],[32.5,0.193,0.03],[32.7,0.28,0.04],[32.9,0.32,0.04],
  [33.1,0.24,0.03],[33.3,0.30,0.04],[33.5,0.27,0.04],[33.7,0.35,0.04],[33.9,0.22,0.03],
  [34.1,0.29,0.04],[34.3,0.25,0.04],[34.5,0.31,0.04],
  [35.0,0.22,0.03],[35.2,0.28,0.04],[35.4,0.33,0.04],[35.6,0.25,0.04],[35.8,0.20,0.03],
  [36.0,0.30,0.04],[36.2,0.27,0.04],[36.4,0.36,0.04],[36.6,0.23,0.03],[36.8,0.163,0.03],
  [37.0,0.374,0.04],[37.2,0.29,0.04],[37.4,0.19,0.03],[37.6,0.26,0.04],[37.8,0.32,0.04],
  [38.0,0.24,0.03],[38.2,0.30,0.04],[38.4,0.21,0.03],[38.6,0.34,0.04],[38.8,0.27,0.04],
  [39.0,0.23,0.03],[39.2,0.31,0.04],[39.4,0.26,0.04],[39.6,0.35,0.04],[39.8,0.22,0.03],
  [40.0,0.29,0.04],[40.2,0.33,0.04],[40.4,0.24,0.03],[40.6,0.38,0.04],[40.8,0.28,0.04],
  [41.0,0.21,0.03],[41.2,0.35,0.04],[41.4,0.30,0.04],[41.5,0.394,0.04],[41.6,0.454,0.04],
  [41.7,0.48,0.04],[41.8,0.555,0.04],[41.9,0.26,0.04],[42.1,0.32,0.04],[42.3,0.23,0.03],
  [42.5,0.29,0.04],
  // interleaved dwells
  [-58.5,0.27,0.04],[-58.3,0.22,0.03],[-58.1,0.29,0.04],[-57.9,0.24,0.03],[-57.7,0.31,0.04],
  [-57.5,0.20,0.03],[-57.3,0.26,0.04],[-57.1,0.23,0.03],[-56.9,0.30,0.04],[-56.7,0.25,0.03],
  [-56.5,0.28,0.04],[-56.3,0.21,0.03],[-56.1,0.27,0.04],[-55.9,0.24,0.03],[-55.7,0.30,0.04],
  [-55.5,0.20,0.03],[-55.3,0.25,0.04],[-55.1,0.31,0.04],[-54.9,0.22,0.03],[-54.7,0.27,0.04],
  [-54.5,0.19,0.03],[-54.3,0.29,0.04],[-54.1,0.23,0.03],[-53.9,0.26,0.04],[-53.7,0.20,0.03],
  [-53.5,0.30,0.04],[-53.1,0.24,0.03],[-52.9,0.21,0.03],[-52.7,0.32,0.04],[-52.5,0.18,0.03],
  [-52.3,0.28,0.04],[-52.1,0.23,0.03],[-51.9,0.30,0.04],[-51.7,0.26,0.04],[-51.5,0.21,0.03],
  [-51.2,0.33,0.04],[-51.0,0.24,0.03],[-50.8,0.29,0.04],[-50.6,0.20,0.03],[-50.4,0.31,0.04],
  [-50.2,0.26,0.04],[-50.0,0.22,0.03],[-49.8,0.29,0.04],[-49.6,0.24,0.03],[-49.4,0.34,0.04],
  [-49.2,0.27,0.04],[-49.0,0.21,0.03],[-48.8,0.26,0.04],[-48.6,0.18,0.03],[-48.4,0.30,0.04],
  [-48.2,0.25,0.04],[-48.0,0.33,0.04],[-47.8,0.22,0.03],[-47.6,0.28,0.04],[-47.4,0.20,0.03],
  [-47.2,0.30,0.04],[-47.0,0.26,0.04],[-46.8,0.23,0.03],[-46.6,0.33,0.04],[-46.4,0.28,0.04],
  [-46.2,0.20,0.03],[-46.0,0.35,0.04],[-45.8,0.27,0.04],[-45.6,0.24,0.03],[-45.4,0.30,0.04],
  [-45.2,0.21,0.03],[-45.0,0.32,0.04],[-44.8,0.25,0.04],[-44.6,0.34,0.04],[-44.4,0.23,0.03],
  [-44.2,0.28,0.04],[-44.0,0.36,0.04],[-43.8,0.21,0.03],[-43.6,0.27,0.04],[-43.4,0.32,0.04],
  [-43.2,0.23,0.03],[-43.0,0.29,0.04],[-42.8,0.25,0.04],[-42.6,0.21,0.03],[-42.4,0.27,0.04],
  [-42.2,0.30,0.04],[-42.0,0.26,0.04],[-41.8,0.22,0.03],[-41.6,0.31,0.04],[-41.4,0.20,0.03],
  [-41.2,0.29,0.04],[-41.0,0.33,0.04],[-40.8,0.25,0.04],[-40.6,0.23,0.03],[-40.4,0.32,0.04],
  [-40.2,0.21,0.03],[-40.0,0.27,0.04],[-39.8,0.30,0.04],[-39.6,0.24,0.03],[-39.4,0.21,0.03],
  [-39.2,0.34,0.04],[-39.0,0.27,0.04],[-38.8,0.23,0.03],[-38.6,0.30,0.04],[-38.4,0.20,0.03],
  [-38.2,0.26,0.04],[-38.0,0.24,0.03],[-37.8,0.29,0.04],[-37.6,0.22,0.03],[-37.4,0.31,0.04],
  [-37.2,0.26,0.04],[-37.0,0.20,0.03],[-36.8,0.28,0.04],[-36.6,0.24,0.03],[-36.4,0.33,0.04],
  [-36.2,0.22,0.03],[-36.0,0.29,0.04],[-35.8,0.26,0.04],[-35.6,0.21,0.03],[-35.4,0.33,0.04],
  [-35.2,0.24,0.03],[-35.0,0.28,0.04],[-34.8,0.20,0.03],[-34.6,0.30,0.04],[-34.4,0.34,0.04],
  [-34.2,0.23,0.03],[-34.0,0.27,0.04],[-33.8,0.21,0.03],[-33.6,0.30,0.04],[-33.4,0.25,0.04],
  [-33.2,0.19,0.03],[-33.0,0.31,0.04],[-32.8,0.26,0.04],[-32.6,0.23,0.03],[-32.4,0.28,0.04],
  [-32.2,0.21,0.03],[-32.0,0.30,0.04],[-31.8,0.27,0.04],[-31.6,0.24,0.03],[-31.4,0.33,0.04],
  [-31.2,0.21,0.03],[-31.0,0.29,0.04],[-30.8,0.25,0.04],[-30.6,0.31,0.04],[-30.4,0.19,0.03],
  [-30.2,0.27,0.04],[-30.0,0.34,0.04],[-29.8,0.22,0.03],[-29.6,0.30,0.04],[-29.5,0.36,0.04],
  [-29.3,0.25,0.04],[-29.1,0.22,0.03],[-28.9,0.33,0.04],[-28.7,0.28,0.04],[-28.5,0.24,0.03],
  [-28.3,0.30,0.04],[-28.1,0.23,0.03],[-27.9,0.26,0.04],[-27.7,0.30,0.04],[-27.5,0.21,0.03],
  [-27.3,0.28,0.04],[-27.0,0.33,0.04],[-26.8,0.24,0.03],[-26.6,0.29,0.04],[-26.4,0.36,0.04],
  [-26.2,0.27,0.04],[-26.0,0.33,0.04],[-25.8,0.22,0.03],[-25.6,0.27,0.04],[-25.4,0.24,0.03],
  [-25.2,0.31,0.04],[-25.0,0.26,0.04],[-24.8,0.22,0.03],[-24.6,0.30,0.04],[-24.4,0.27,0.04],
  [-24.2,0.21,0.03],[-24.0,0.32,0.04],[-23.8,0.25,0.04],[-23.6,0.22,0.03],[-23.4,0.30,0.04],
  [-23.2,0.27,0.04],[-23.0,0.20,0.03],[-22.8,0.29,0.04],[-22.6,0.24,0.03],[-22.4,0.31,0.04],
  [-22.2,0.26,0.04],[-22.0,0.21,0.03],[-21.8,0.29,0.04],[-21.6,0.25,0.04],[-21.4,0.31,0.04],
  [-21.2,0.22,0.03],[-21.0,0.27,0.04],[-20.8,0.30,0.04],[-20.6,0.24,0.03],[-20.4,0.32,0.04],
  [-20.2,0.27,0.04],[-20.0,0.22,0.03],[-19.8,0.30,0.04],[-19.6,0.23,0.03],[-19.5,0.27,0.04],
  [-19.3,0.21,0.03],[-19.1,0.28,0.04],[-18.9,0.25,0.04],[-18.7,0.31,0.04],[-18.5,0.23,0.03],
  [-18.3,0.33,0.04],[-18.1,0.22,0.03],[-17.9,0.27,0.04],[-17.7,0.30,0.04],[-17.5,0.25,0.04],
  [-17.3,0.21,0.03],[-17.1,0.32,0.04],[-16.9,0.26,0.04],[-16.7,0.29,0.04],[-16.5,0.22,0.03],
  [-16.3,0.33,0.04],[-16.1,0.26,0.04],[-15.9,0.24,0.03],[-15.6,0.31,0.04],[-15.4,0.22,0.03],
  [-15.2,0.28,0.04],[-15.0,0.25,0.04],[-14.8,0.33,0.04],[-14.6,0.21,0.03],[-14.5,0.27,0.04],
  [-14.3,0.25,0.04],[-14.1,0.30,0.04],[-13.9,0.24,0.03],[-13.7,0.29,0.04],[-13.5,0.21,0.03],
  [-13.4,0.32,0.04],[-13.1,0.26,0.04],[-12.9,0.23,0.03],[-12.7,0.34,0.04],[-12.5,0.27,0.04],
  [-12.3,0.21,0.03],[-12.1,0.30,0.04],[-11.9,0.23,0.03],[-11.7,0.28,0.04],[-11.5,0.26,0.04],
  [-11.3,0.33,0.04],[-11.1,0.23,0.03],[-10.9,0.30,0.04],[-10.7,0.21,0.03],[-10.5,0.28,0.04],
  [-10.3,0.25,0.04],[-10.1,0.33,0.04],[-9.9,0.22,0.03],[-9.7,0.27,0.04],[-9.5,0.30,0.04],
  [-9.3,0.21,0.03],[-9.1,0.27,0.04],[-8.9,0.24,0.03],[-8.7,0.31,0.04],[-8.5,0.26,0.04],
  [-8.3,0.23,0.03],[-8.2,0.29,0.04],[-8.0,0.21,0.03],[-7.8,0.30,0.04],[-7.6,0.22,0.03],
  [-7.4,0.28,0.04],[-7.2,0.26,0.04],[-7.0,0.33,0.04],[-6.8,0.24,0.03],[-6.6,0.29,0.04],
  [-6.4,0.22,0.03],[-6.2,0.31,0.04],[-6.0,0.36,0.04],[-5.5,0.27,0.04],[-5.3,0.33,0.04],
  [-5.1,0.26,0.04],[-4.9,0.24,0.03],[-4.7,0.28,0.04],[-4.5,0.32,0.04],[-4.3,0.27,0.04],
  [-4.1,0.23,0.03],[-3.9,0.30,0.04],[-3.7,0.25,0.04],[-3.5,0.34,0.04],[-3.3,0.27,0.04],
  [-3.1,0.24,0.03],[-2.9,0.31,0.04],[-2.7,0.22,0.03],[-2.5,0.29,0.04],[-2.3,0.33,0.04],
  [-2.1,0.27,0.04],[-1.9,0.35,0.04],[-1.7,0.24,0.03],[-1.5,0.31,0.04],[-1.3,0.38,0.04],
  [-1.1,0.29,0.04],[-0.9,0.33,0.04],[-0.7,0.36,0.04],[-0.5,0.44,0.04],[-0.3,0.39,0.04],
  [-0.1,0.31,0.04],[0.1,0.37,0.04],[0.3,0.49,0.05],[0.5,0.34,0.04],[0.7,0.38,0.04],
  [0.9,0.45,0.04],[1.1,0.34,0.04],[1.3,0.40,0.04],[1.5,0.52,0.05],[1.7,0.36,0.04],
  [1.9,0.44,0.04],[2.1,0.33,0.04],[2.3,0.46,0.04],[2.5,0.55,0.05],[2.7,0.38,0.04],
  [2.9,0.47,0.04],[3.1,0.36,0.04],[3.3,0.42,0.04],[3.5,0.54,0.05],[3.7,0.33,0.04],
  [3.8,0.46,0.04],[4.0,0.38,0.04],[4.2,0.35,0.04],[4.4,0.30,0.04],[4.6,0.38,0.04],
  [4.8,0.28,0.04],[5.0,0.36,0.04],[5.2,0.32,0.04],[5.4,0.41,0.04],[5.6,0.28,0.04],
  [5.8,0.35,0.04],[6.0,0.27,0.04],[6.2,0.31,0.04],[6.4,0.27,0.04],[6.6,0.34,0.04],
  [6.8,0.24,0.03],[7.0,0.30,0.04],[7.2,0.33,0.04],[7.4,0.27,0.04],[7.6,0.35,0.04],
  [7.8,0.23,0.03],[8.0,0.30,0.04],[8.2,0.27,0.04],[8.4,0.33,0.04],[8.6,0.25,0.04],
  [8.8,0.29,0.04],[9.0,0.22,0.03],[9.2,0.31,0.04],[9.4,0.27,0.04],[9.5,0.34,0.04],
  [9.7,0.24,0.03],[9.9,0.32,0.04],[10.1,0.26,0.04],[10.3,0.30,0.04],[10.5,0.24,0.03],
  [10.7,0.33,0.04],[10.9,0.22,0.03],[11.1,0.28,0.04],[11.3,0.33,0.04],[11.5,0.27,0.04],
  [11.7,0.22,0.03],[11.9,0.31,0.04],[12.1,0.26,0.04],[12.3,0.23,0.03],[12.5,0.31,0.04],
  [12.7,0.28,0.04],[12.9,0.33,0.04],[13.1,0.24,0.03],[13.3,0.27,0.04],[13.5,0.30,0.04],
  [13.7,0.22,0.03],[13.9,0.33,0.04],[14.1,0.25,0.04],[14.3,0.30,0.04],[14.5,0.23,0.03],
  [14.7,0.28,0.04],[14.9,0.35,0.04],[15.1,0.27,0.04],[15.3,0.31,0.04],[15.5,0.24,0.03],
  [15.7,0.29,0.04],[15.9,0.33,0.04],[16.1,0.26,0.04],[16.3,0.31,0.04],[16.5,0.24,0.03],
  [16.7,0.35,0.04],[16.9,0.30,0.04],[17.1,0.33,0.04],[17.3,0.28,0.04],[17.5,0.38,0.04],
  [17.7,0.25,0.04],[17.9,0.34,0.04],[18.1,0.30,0.04],[18.3,0.27,0.04],[18.5,0.37,0.04],
  [18.7,0.25,0.04],[18.9,0.32,0.04],[19.1,0.29,0.04],[19.3,0.35,0.04],[19.5,0.26,0.04],
  [19.7,0.30,0.04],[19.9,0.23,0.03],[20.1,0.29,0.04],[20.3,0.26,0.04],[20.5,0.31,0.04],
  [20.7,0.24,0.03],[20.9,0.32,0.04],[21.1,0.27,0.04],[21.3,0.29,0.04],[21.5,0.25,0.04],
  [21.7,0.22,0.03],[21.9,0.31,0.04],[22.1,0.28,0.04],[22.3,0.25,0.04],[22.5,0.31,0.04],
  [22.7,0.26,0.04],[22.9,0.29,0.04],[23.1,0.23,0.03],[23.3,0.33,0.04],[23.5,0.27,0.04],
  [23.7,0.30,0.04],[23.9,0.24,0.03],[24.1,0.30,0.04],[24.3,0.26,0.04],[24.6,0.31,0.04],
  [24.8,0.21,0.03],[25.0,0.35,0.04],[25.2,0.27,0.04],[25.4,0.32,0.04],[25.7,0.38,0.04],
  [25.9,0.30,0.04],[26.1,0.33,0.04],[26.3,0.37,0.04],[26.5,0.29,0.04],[26.7,0.40,0.04],
  [26.9,0.31,0.04],[27.1,0.35,0.04],[27.3,0.27,0.04],[27.5,0.32,0.04],[27.7,0.28,0.04],
  [27.9,0.36,0.04],[28.1,0.24,0.03],[28.3,0.30,0.04],[28.5,0.27,0.04],[28.7,0.33,0.04],
  [28.9,0.25,0.04],[29.1,0.29,0.04],[29.3,0.32,0.04],[29.5,0.27,0.04],[29.7,0.34,0.04],
  [29.9,0.29,0.04],[30.1,0.27,0.04],[30.3,0.33,0.04],[30.5,0.25,0.04],[30.7,0.30,0.04],
  [30.9,0.28,0.04],[31.1,0.31,0.04],[31.3,0.25,0.04],[31.5,0.33,0.04],[31.7,0.27,0.04],
  [31.9,0.24,0.03],[32.1,0.29,0.04],[32.3,0.26,0.04],[32.4,0.31,0.04],[32.6,0.23,0.03],
  [32.8,0.27,0.04],[33.0,0.29,0.04],[33.2,0.33,0.04],[33.4,0.24,0.03],[33.6,0.28,0.04],
  [33.8,0.31,0.04],[34.0,0.26,0.04],[34.2,0.33,0.04],[34.4,0.23,0.03],[34.6,0.27,0.04],
  [34.8,0.30,0.04],[35.1,0.26,0.04],[35.3,0.24,0.03],[35.5,0.30,0.04],[35.7,0.28,0.04],
  [35.9,0.25,0.04],[36.1,0.33,0.04],[36.3,0.24,0.03],[36.5,0.29,0.04],[36.7,0.27,0.04],
  [36.9,0.32,0.04],[37.1,0.24,0.03],[37.3,0.28,0.04],[37.5,0.33,0.04],[37.7,0.23,0.03],
  [37.9,0.28,0.04],[38.1,0.27,0.04],[38.3,0.33,0.04],[38.5,0.25,0.04],[38.7,0.29,0.04],
  [38.9,0.31,0.04],[39.1,0.27,0.04],[39.3,0.24,0.03],[39.5,0.30,0.04],[39.7,0.26,0.04],
  [39.9,0.32,0.04],[40.1,0.25,0.04],[40.3,0.29,0.04],[40.5,0.31,0.04],[40.7,0.24,0.03],
  [40.9,0.33,0.04],[41.1,0.27,0.04],[41.3,0.23,0.03],[41.45,0.32,0.04],[41.65,0.36,0.04],
  [41.75,0.29,0.04],[41.85,0.38,0.04],[42.0,0.27,0.04],[42.2,0.34,0.04],[42.4,0.26,0.04]
];

// --- Style ---
const FONT = '"Liberation Sans", Arial, Helvetica, sans-serif';
const INK = '#222';

const panels = [
  { id: 'yMagic', range: magicRange, ticks: magicTicks, minor: 0.01, weight: 376,
    lines: ['MAGIC', '(150-2000 GeV)'], textY: [50.5, 93.5] },
  { id: 'yBat', range: batRange, ticks: batTicks, minor: 0.05, weight: 384,
    lines: ['SWIFT BAT', '(15-50 keV)'], textY: [59, 97] },
  { id: 'yAsm', range: asmRange, ticks: asmTicks, minor: 0.02, weight: 394,
    lines: ['RXTE ASM', '(1.5-12 keV)'], textY: [58.5, 95] }
];

function zeroPad(s) {
  s.paddingTop = 0; s.paddingBottom = 0; s.paddingLeft = 0; s.paddingRight = 0;
}

function yAxis(p, i) {
  return {
    type: 'linear', position: 'left', stack: 'panels', stackWeight: p.weight, weight: 3 - i,
    min: p.range[0], max: p.range[1], bounds: 'data',
    afterBuildTicks: s => { s.ticks = p.ticks.map(v => ({ value: v })); },
    afterFit: s => { s.width = 64; zeroPad(s); },
    grid: { color: INK, lineWidth: 1, drawTicks: false },
    border: { display: false, dash: [2, 2.5] },
    ticks: { color: INK, padding: 4, autoSkip: false, font: { family: FONT, size: 14, weight: 'bold' },
             callback: v => String(v) },
    title: { display: true, text: 'Crab Units', align: 'end', color: INK,
             font: { family: FONT, size: 17, weight: 'bold' }, padding: { top: 11, bottom: 0 } }
  };
}

const scales = {
  x: {
    type: 'linear', position: 'bottom', min: dayRange[0], max: dayRange[1], bounds: 'data',
    afterBuildTicks: s => { s.ticks = dayTicks.map(v => ({ value: v })); },
    afterFit: s => { s.height = 44; zeroPad(s); },
    grid: { color: INK, lineWidth: 1, drawTicks: false },
    border: { display: false, dash: [2, 2.5] },
    ticks: { color: INK, padding: 2, autoSkip: false, maxRotation: 0,
             font: { family: FONT, size: 15, weight: 'bold' }, callback: v => String(v) },
    title: { display: true, text: 'MJD-54000 [days]', align: 'end', color: INK,
             font: { family: FONT, size: 20, weight: 'bold' }, padding: { top: 0, bottom: 0 } }
  }
};
panels.forEach((p, i) => { scales[p.id] = yAxis(p, i); });

const toPts = rows => rows.map(r => ({ x: r[0], y: r[1], e: r[2] }));
const magicPts = magicDay.map((d, i) => ({ x: d, y: magicFlux[i], e: magicErr[i] }));

// --- Plugins ---
const errorBars = {
  id: 'errorBars',
  beforeDatasetsDraw(chart) {
    const { ctx, chartArea: a } = chart;
    const xs = chart.scales.x;
    // solid zero line in the MAGIC panel
    const ym = chart.scales.yMagic;
    ctx.save();
    ctx.strokeStyle = '#111';
    ctx.lineWidth = 1.5;
    ctx.beginPath();
    const y0 = Math.round(ym.getPixelForValue(0)) + 0.5;
    ctx.moveTo(a.left, y0); ctx.lineTo(a.right, y0);
    ctx.stroke();
    ctx.restore();

    chart.data.datasets.forEach(ds => {
      const ys = chart.scales[ds.yAxisID];
      ctx.save();
      ctx.beginPath();
      ctx.rect(a.left, ys.top, a.right - a.left, ys.bottom - ys.top);
      ctx.clip();
      ctx.strokeStyle = ds.errColor;
      ctx.lineWidth = ds.errWidth;
      ctx.beginPath();
      ds.data.forEach(p => {
        const x = xs.getPixelForValue(p.x);
        const lo = ys.getPixelForValue(p.y - p.e);
        const hi = ys.getPixelForValue(p.y + p.e);
        ctx.moveTo(x, lo); ctx.lineTo(x, hi);
        ctx.moveTo(x - ds.cap, lo); ctx.lineTo(x + ds.cap, lo);
        ctx.moveTo(x - ds.cap, hi); ctx.lineTo(x + ds.cap, hi);
      });
      ctx.stroke();
      ctx.restore();
    });
  }
};

const frame = {
  id: 'frame',
  afterDatasetsDraw(chart) {
    const { ctx, chartArea: a } = chart;
    const xs = chart.scales.x;
    ctx.save();

    // reference lines across all panels
    ctx.lineWidth = 1.5;
    ctx.strokeStyle = '#23239a';
    ctx.setLineDash([1.5, 2]);
    markerDays.forEach(d => {
      const x = xs.getPixelForValue(d);
      ctx.beginPath(); ctx.moveTo(x, a.top); ctx.lineTo(x, a.bottom); ctx.stroke();
    });
    ctx.strokeStyle = '#e3202b';
    ctx.setLineDash([5, 4]);
    const xf = xs.getPixelForValue(flareDay);
    ctx.beginPath(); ctx.moveTo(xf, a.top); ctx.lineTo(xf, a.bottom); ctx.stroke();
    ctx.setLineDash([]);

    // panel frames and tick marks
    ctx.strokeStyle = INK;
    panels.forEach(p => {
      const ys = chart.scales[p.id];
      ctx.lineWidth = 1.2;
      ctx.beginPath();
      ys.ticks.forEach(t => {
        const y = Math.round(ys.getPixelForValue(t.value)) + 0.5;
        ctx.moveTo(a.left, y); ctx.lineTo(a.left + 15, y);
      });
      const k0 = Math.ceil(p.range[0] / p.minor - 1e-6);
      const k1 = Math.floor(p.range[1] / p.minor + 1e-6);
      for (let k = k0; k <= k1; k++) {
        const y = Math.round(ys.getPixelForValue(k * p.minor)) + 0.5;
        ctx.moveTo(a.left, y); ctx.lineTo(a.left + 7.5, y);
      }
      for (let k = -13; k <= 13; k++) {
        const v = k * 5;
        const x = Math.round(xs.getPixelForValue(v)) + 0.5;
        const len = v % 20 === 0 ? 12 : 5.5;
        ctx.moveTo(x, ys.bottom); ctx.lineTo(x, ys.bottom - len);
      }
      ctx.stroke();
      ctx.lineWidth = 1.8;
      ctx.strokeRect(a.left, ys.top, a.right - a.left, ys.bottom - ys.top);

      // panel label
      ctx.fillStyle = '#1c1c1c';
      ctx.font = 'bold 24.5px ' + FONT;
      ctx.textAlign = 'left';
      ctx.textBaseline = 'alphabetic';
      p.lines.forEach((txt, j) => ctx.fillText(txt, 86, ys.top + p.textY[j]));
    });
    ctx.restore();
  }
};

// --- Chart ---
new Chart(document.getElementById('lc'), {
  type: 'scatter',
  data: {
    datasets: [
      { label: 'RXTE ASM', yAxisID: 'yAsm', data: toPts(asmPoints), pointStyle: 'triangle', pointRadius: 5.5,
        pointBackgroundColor: '#4b8a85', pointBorderWidth: 0, errColor: '#5c9691', errWidth: 1.7, cap: 3 },
      { label: 'SWIFT BAT', yAxisID: 'yBat', data: toPts(batPoints), pointStyle: 'rect', pointRadius: 5.4,
        pointBackgroundColor: '#44608f', pointBorderWidth: 0, errColor: '#6680ab', errWidth: 1.8, cap: 3 },
      { label: 'MAGIC', yAxisID: 'yMagic', data: magicPts, pointStyle: 'circle', pointRadius: 6.3,
        pointBackgroundColor: '#111', pointBorderWidth: 0, errColor: '#333', errWidth: 1.6, cap: 2.5 }
    ]
  },
  options: {
    responsive: false,
    animation: false,
    events: [],
    layout: { padding: { left: 3, right: 4, top: 3, bottom: 2 } },
    plugins: { legend: { display: false }, tooltip: { enabled: false } },
    scales
  },
  plugins: [errorBars, frame]
});
</script>
</body>
</html>
